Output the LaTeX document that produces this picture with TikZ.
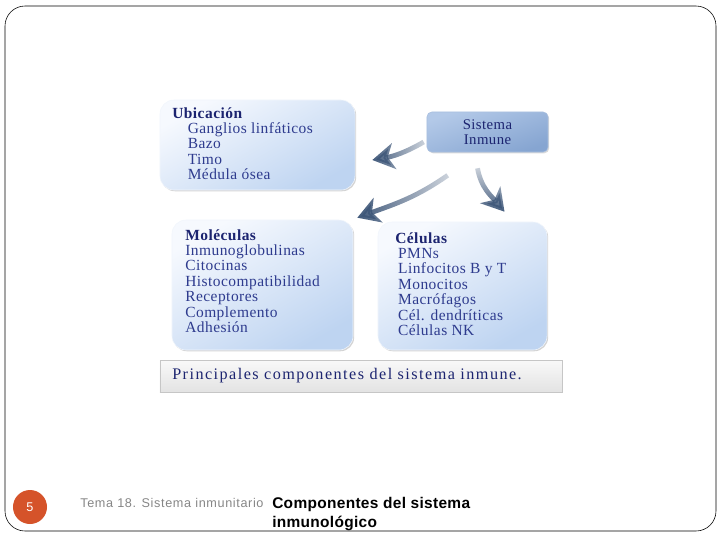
\documentclass[tikz,border=0pt]{standalone}
\usepackage{fontspec}
\usepackage{tikz}
\usetikzlibrary{calc,shadows,fadings,arrows.meta}

\setmainfont{Liberation Serif}
\newfontfamily\boxfont[LetterSpace=3]{Liberation Serif}
\newfontfamily\capfont[LetterSpace=9]{Liberation Serif}
\newfontfamily\footfont[LetterSpace=2]{Liberation Sans}
\newfontfamily\temafont[LetterSpace=5]{Liberation Sans}

\definecolor{navy}{HTML}{1C2470}
\definecolor{itemblue}{HTML}{2E3B8E}
\definecolor{paleblue}{HTML}{F6F9FE}
\definecolor{boxblue}{HTML}{BED4F1}
\definecolor{sistop}{HTML}{B3C9E8}
\definecolor{sisbot}{HTML}{86A5D1}
\definecolor{arrowdark}{HTML}{3D5678}
\definecolor{pageorange}{HTML}{D5532A}

\tikzfading[name=fadeleft, left color=transparent!0, right color=transparent!75]
\tikzfading[name=fadedown, bottom color=transparent!0, top color=transparent!75]

\begin{document}
\begin{tikzpicture}[x=0.025cm, y=0.025cm,
  panel/.style={draw=white!80!boxblue, rounded corners=0.35cm, top color=paleblue, bottom color=boxblue, shading angle=30,
    drop shadow={shadow xshift=0.8pt, shadow yshift=-0.9pt, fill=gray, opacity=0.35}},
  listtext/.style={font=\boxfont\fontsize{11}{11}\selectfont, text=itemblue, align=left, inner sep=0pt},
  arrowline/.style={line width=1.2mm, -{Stealth[length=5.5mm, width=6.5mm, inset=1.6mm]}}]

  \useasboundingbox (0,0) rectangle (720,-540);
  \draw[rounded corners=0.5cm] (5,-6) rectangle (716,-531);

  % boxes
  \node[panel, minimum width=4.875cm, minimum height=2.25cm] (ubic) at (257.5,-145) {};
  \node[panel, minimum width=4.525cm, minimum height=3.25cm] (mol) at (262.5,-285) {};
  \node[panel, minimum width=4.225cm, minimum height=3.2cm] (cel) at (462.5,-286) {};
  \node[draw=sisbot!70, rounded corners=0.12cm, top color=sistop, bottom color=sisbot, shading angle=20,
    drop shadow={shadow xshift=0.8pt, shadow yshift=-0.9pt, fill=gray, opacity=0.3},
    minimum width=3.025cm, minimum height=1cm, align=center, text=navy,
    font=\boxfont\fontsize{10.5}{10.6}\selectfont] (sis) at (487.5,-132) {Sistema\\Inmune};
  \node[draw=gray!45, top color=gray!5, bottom color=gray!22,
    drop shadow={shadow xshift=0.9pt, shadow yshift=-0.9pt, fill=gray, opacity=0.5},
    minimum width=10.05cm, minimum height=0.8cm] (cap) at (361,-376) {};

  % texts
  \node[listtext, anchor=north west] (ubictxt) at (172,-107) {\textcolor{navy}{\bfseries Ubicación}\\
    \hspace{11pt}Ganglios linfáticos\\\hspace{11pt}Bazo\\\hspace{11pt}Timo\\\hspace{11pt}Médula ósea};
  \node[listtext, anchor=north west] (moltxt) at (185,-229) {\textcolor{navy}{\bfseries Moléculas}\\
    Inmunoglobulinas\\Citocinas\\Histocompatibilidad\\Receptores\\Complemento\\Adhesión};
  \node[listtext, anchor=north west] (celtxt) at (395,-232) {\textcolor{navy}{\bfseries Células}\\
    \hspace{2pt}PMNs\\\hspace{2pt}Linfocitos B y T\\\hspace{2pt}Monocitos\\\hspace{2pt}Macrófagos\\
    \hspace{2pt}Cél. dendríticas\\\hspace{2pt}Células NK};
  \node[anchor=west, inner sep=0pt, text=navy, font=\capfont\fontsize{11.5}{12}\selectfont] (captxt) at (172,-376)
    {Principales componentes del sistema inmune.};

  % arrows
  \coordinate (u1) at ($(sis.west)+(-3,-10)$);
  \coordinate (u2) at ($(ubic.east)+(17,-15)$);
  \coordinate (m1) at ($(sis.south west)+(21,-23)$);
  \coordinate (m2) at ($(mol.north east)+(4,2)$);
  \coordinate (c1) at ($(sis.south)+(-10,-16)$);
  \coordinate (c2) at ($(cel.north)+(42,10)$);
  \draw[arrowline, arrowdark, path fading=fadeleft] (u1) to[out=210, in=10] (u2);
  \draw[arrowline, arrowdark, path fading=fadeleft] (m1) to[out=215, in=20] (m2);
  \draw[arrowline, arrowdark, path fading=fadedown] (c1) to[out=280, in=130] (c2);

  % footer
  \node[circle, fill=pageorange, minimum size=0.85cm, inner sep=0pt, text=white,
    font=\footfont\fontsize{9}{9}\selectfont] (pgnum) at (30,-507) {5};
  \node[anchor=base west, inner sep=0pt, text=gray!95, font=\temafont\fontsize{9}{9}\selectfont] (tema) at (80,-507)
    {Tema 18. Sistema inmunitario};
  \node[anchor=north west, inner sep=0pt, align=left, font=\footfont\bfseries\fontsize{11}{13.5}\selectfont] (titulo)
    at (272,-497) {Componentes del sistema\\inmunológico};
\end{tikzpicture}
\end{document}
